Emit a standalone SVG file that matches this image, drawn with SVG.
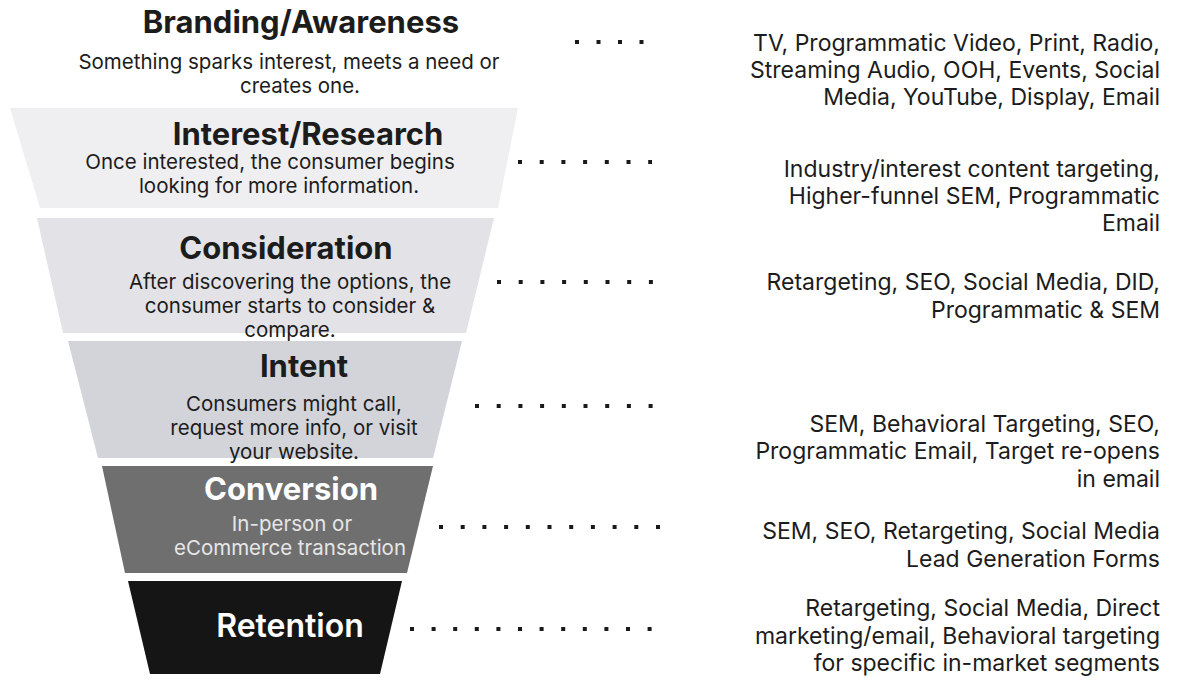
<svg xmlns="http://www.w3.org/2000/svg" width="1180" height="681" viewBox="0 0 1180 681">
<style>
text{font-family:Inter,"DejaVu Sans",sans-serif;}
.t{font-weight:700;font-size:31px;fill:#1c1c1c;text-anchor:middle;}
.tw{font-weight:700;font-size:31px;fill:#ffffff;text-anchor:middle;}
.s{font-size:20.5px;fill:#1c1c1c;text-anchor:middle;}
.sw{font-size:20.5px;fill:#e6e6e6;text-anchor:middle;}
.r{font-size:23px;fill:#1c1c1c;text-anchor:end;}
.d{stroke:#1a1a1a;stroke-width:4;fill:none;}
</style>
<rect width="1180" height="681" fill="#ffffff"/>
<g id="branding">
<text class="t" x="301" y="33">Branding/Awareness</text>
<text class="s" x="289" y="69">Something sparks interest, meets a need or</text>
<text class="s" x="300" y="93">creates one.</text>
</g>
<g id="interest">
<polygon points="10,108 518,108 498,208 40,208" fill="#efeff1"/>
<text class="t" x="308" y="145">Interest/Research</text>
<text class="s" x="270" y="169">Once interested, the consumer begins</text>
<text class="s" x="279" y="193">looking for more information.</text>
</g>
<g id="consideration">
<polygon points="37,218 494,218 466,333 63,333" fill="#e3e3e7"/>
<text class="t" x="286" y="259">Consideration</text>
<text class="s" x="290" y="289">After discovering the options, the</text>
<text class="s" x="290" y="313">consumer starts to consider &amp;</text>
<text class="s" x="290" y="337">compare.</text>
</g>
<g id="intent">
<polygon points="68,341 462,341 433,458 98,458" fill="#d3d4d9"/>
<text class="t" x="304" y="377">Intent</text>
<text class="s" x="294" y="411">Consumers might call,</text>
<text class="s" x="294" y="435">request more info, or visit</text>
<text class="s" x="294" y="459">your website.</text>
</g>
<g id="conversion">
<polygon points="102,466 433,466 407,573 125,573" fill="#6f6f6f"/>
<text class="tw" x="291" y="500">Conversion</text>
<text class="sw" x="292" y="531">In-person or</text>
<text class="sw" x="290" y="555">eCommerce transaction</text>
</g>
<g id="retention">
<polygon points="128,581 402,581 380,674 150,674" fill="#151515"/>
<text class="tw" x="290" y="637" style="font-weight:600;font-size:32px">Retention</text>
</g>
<g id="connectors">
<line class="d" x1="575" y1="42" x2="643.5" y2="42" stroke-dasharray="4 17.5"/>
<line class="d" x1="518" y1="162" x2="652" y2="162" stroke-dasharray="4 17.7"/>
<line class="d" x1="497" y1="282" x2="653" y2="282" stroke-dasharray="4 17.7"/>
<line class="d" x1="475" y1="406" x2="653" y2="406" stroke-dasharray="4 17.7"/>
<line class="d" x1="439" y1="527" x2="660" y2="527" stroke-dasharray="4 17.7"/>
<line class="d" x1="410" y1="629" x2="652" y2="629" stroke-dasharray="4 17.6"/>
</g>
<g id="channels">
<text class="r" x="1160" y="51">TV, Programmatic Video, Print, Radio,</text>
<text class="r" x="1160" y="78">Streaming Audio, OOH, Events, Social</text>
<text class="r" x="1160" y="105">Media, YouTube, Display, Email</text>
<text class="r" x="1160" y="177">Industry/interest content targeting,</text>
<text class="r" x="1160" y="204">Higher-funnel SEM, Programmatic</text>
<text class="r" x="1160" y="231">Email</text>
<text class="r" x="1160" y="290">Retargeting, SEO, Social Media, DID,</text>
<text class="r" x="1160" y="318">Programmatic &amp; SEM</text>
<text class="r" x="1160" y="432">SEM, Behavioral Targeting, SEO,</text>
<text class="r" x="1160" y="459">Programmatic Email, Target re-opens</text>
<text class="r" x="1160" y="487">in email</text>
<text class="r" x="1160" y="539">SEM, SEO, Retargeting, Social Media</text>
<text class="r" x="1160" y="567">Lead Generation Forms</text>
<text class="r" x="1160" y="616">Retargeting, Social Media, Direct</text>
<text class="r" x="1160" y="644">marketing/email, Behavioral targeting</text>
<text class="r" x="1160" y="671">for specific in-market segments</text>
</g>
</svg>
